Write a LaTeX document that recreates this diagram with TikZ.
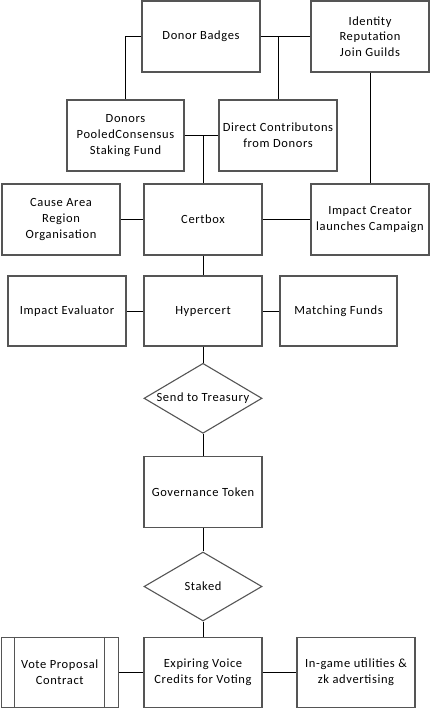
\documentclass[tikz,border=0pt]{standalone}
\usepackage{fontspec}
\setmainfont{Carlito}[LetterSpace=5]
\usetikzlibrary{shapes.geometric}
\definecolor{boxline}{HTML}{555555}
\tikzset{
  box/.style={draw=boxline, line width=1.1pt, fill=white, rectangle, inner sep=1pt,
    minimum width=118pt, minimum height=71pt, align=center,
    font=\fontsize{12.5}{15.7}\selectfont},
  dia/.style={draw=boxline, line width=1.1pt, fill=white, diamond, inner sep=0pt,
    minimum width=118pt, minimum height=70pt},
  dlabel/.style={font=\fontsize{12.5}{15.7}\selectfont},
  conn/.style={draw=black, line width=0.8pt},
}
\begin{document}
\begin{tikzpicture}[x=1pt,y=-1pt]
\useasboundingbox (0,0) rectangle (430,709);
\node[box] (badges) at (201,36.5) {Donor Badges};
\node[box] (ident) at (370,36.5) {Identity\\Reputation\\Join Guilds};
\node[box, minimum width=117pt] (donors) at (125.5,135.5) {Donors\\PooledConsensus\\Staking Fund};
\node[box] (direct) at (278,135.5) {Direct Contributons\\from Donors};
\node[box] (cause) at (61,219.5) {Cause Area\\Region\\Organisation};
\node[box] (certbox) at (203,219.5) {Certbox};
\node[box] (creator) at (370,219.5) {Impact Creator\\launches Campaign};
\node[box, minimum height=70pt] (evaluator) at (67,311) {Impact Evaluator};
\node[box, minimum height=70pt] (hyper) at (203,311) {Hypercert};
\node[box, minimum height=70pt, minimum width=117pt] (matching) at (338.5,311) {Matching Funds};
\node[dia, label={[dlabel]center:Send to Treasury}] (treasury) at (203,398.3) {};
\node[box, minimum height=70.5pt] (gov) at (203,492) {Governance Token};
\node[dia, minimum height=69pt, label={[dlabel]center:Staked}] (staked) at (203,586.5) {};
\node[box, minimum height=70pt, minimum width=117pt] (vote) at (59.7,672.3) {Vote Proposal\\Contract};
\node[box, minimum height=70pt] (expiring) at (203,672.3) {Expiring Voice\\Credits for Voting};
\node[box, minimum height=70pt] (ingame) at (356,672.3) {In-game utilities \&\\zk advertising};
\draw[draw=boxline, line width=1.1pt] ([xshift=13.7pt]vote.north west) -- ([xshift=13.7pt]vote.south west);
\draw[draw=boxline, line width=1.1pt] ([xshift=-14pt]vote.north east) -- ([xshift=-14pt]vote.south east);
% connectors
\draw[conn] (badges.west) -| (donors.north);
\draw[conn] (badges.east) -- (ident.west);
\draw[conn] (badges.east) -| (direct.north);
\draw[conn] (donors.east) -- (direct.west);
\draw[conn] (donors.east) -| (certbox.north);
\draw[conn] (ident.south) -- (creator.north);
\draw[conn] (cause.east) -- (certbox.west);
\draw[conn] (certbox.east) -- (creator.west);
\draw[conn] (certbox.south) -- (hyper.north);
\draw[conn] (evaluator.east) -- (hyper.west);
\draw[conn] (hyper.east) -- (matching.west);
\draw[conn] (hyper.south) -- (treasury.north);
\draw[conn] (treasury.south) -- (gov.north);
\draw[conn] (gov.south) -- (staked.north);
\draw[conn] (staked.south) -- (expiring.north);
\draw[conn] (vote.east) -- (expiring.west);
\draw[conn] (expiring.east) -- (ingame.west);
\end{tikzpicture}
\end{document}
